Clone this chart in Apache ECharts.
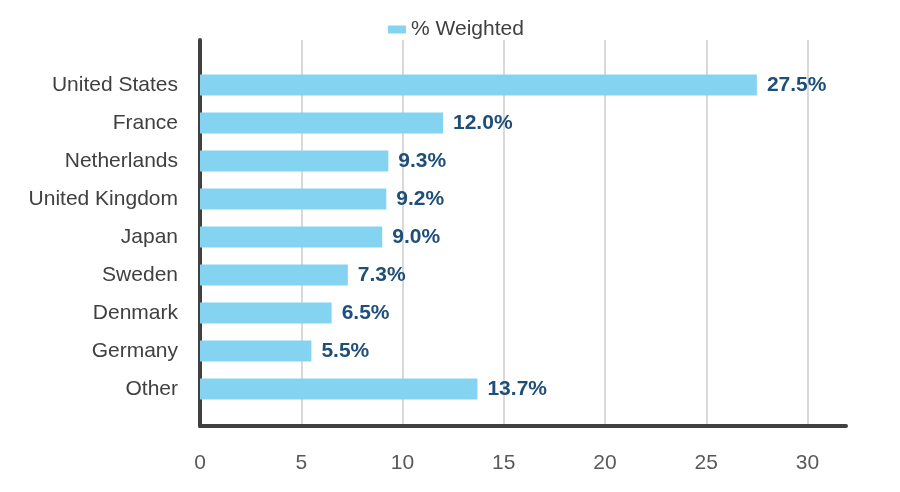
<!DOCTYPE html>
<html>
<head>
<meta charset="utf-8">
<script src="https://cdn.jsdelivr.net/npm/echarts@6/dist/echarts.min.js"></script>
<style>html,body{margin:0;padding:0;background:#fff;}#c{width:900px;height:492px;}</style>
</head>
<body>
<div id="c"></div>
<script>
const categories = ['United States','France','Netherlands','United Kingdom','Japan','Sweden','Denmark','Germany','Other'];
const weighted = [27.5, 12.0, 9.3, 9.2, 9.0, 7.3, 6.5, 5.5, 13.7];
const seriesName = '% Weighted';

const FONT = '"Liberation Sans", Arial, sans-serif';
const chart = echarts.init(document.getElementById('c'), null, {renderer: 'canvas'});
chart.setOption({
  animation: false,
  textStyle: {fontFamily: FONT},
  legend: {
    top: 14, left: 383,
    itemWidth: 18, itemHeight: 8, itemGap: 9,
    icon: 'rect',
    textStyle: {fontSize: 21, color: '#404040', fontFamily: FONT},
    data: [seriesName]
  },
  grid: [
    {left: 200, right: 54, top: 66, bottom: 84},
    {left: 200, right: 54, top: 40, bottom: 66}
  ],
  xAxis: [
    {gridIndex: 0, type: 'value', min: 0, max: 31.9, show: false},
    {gridIndex: 1, type: 'value', min: 0, max: 31.9, interval: 5,
     axisLine: {show: true, onZero: false, lineStyle: {color: '#404040', width: 4}},
     axisTick: {show: false},
     splitLine: {show: true, showMaxLine: false, showMinLine: false, lineStyle: {color: '#d9d9d9', width: 2}},
     axisLabel: {fontSize: 21, color: '#595959', margin: 27, fontFamily: FONT, showMaxLabel: false,
       formatter: v => (v % 5 === 0 ? String(v) : '')}
    }
  ],
  yAxis: [
    {gridIndex: 0, type: 'category', data: categories, inverse: true,
     axisLine: {show: false}, axisTick: {show: false}, splitLine: {show: false},
     axisLabel: {fontSize: 21, color: '#404040', margin: 22, fontFamily: FONT}
    },
    {gridIndex: 1, type: 'value', min: 0, max: 1,
     axisLine: {show: true, onZero: false, lineStyle: {color: '#404040', width: 4}},
     axisTick: {show: false}, axisLabel: {show: false}, splitLine: {show: false}
    }
  ],
  series: [{
    name: seriesName,
    type: 'bar',
    xAxisIndex: 0, yAxisIndex: 0,
    data: weighted,
    barWidth: 21,
    itemStyle: {color: '#84d4f1'},
    z: 3,
    label: {
      show: true, position: 'right', distance: 10,
      fontSize: 21, fontWeight: 'bold', color: '#1f4e79', fontFamily: FONT,
      formatter: p => p.value.toFixed(1) + '%'
    }
  }]
});
</script>
</body>
</html>
